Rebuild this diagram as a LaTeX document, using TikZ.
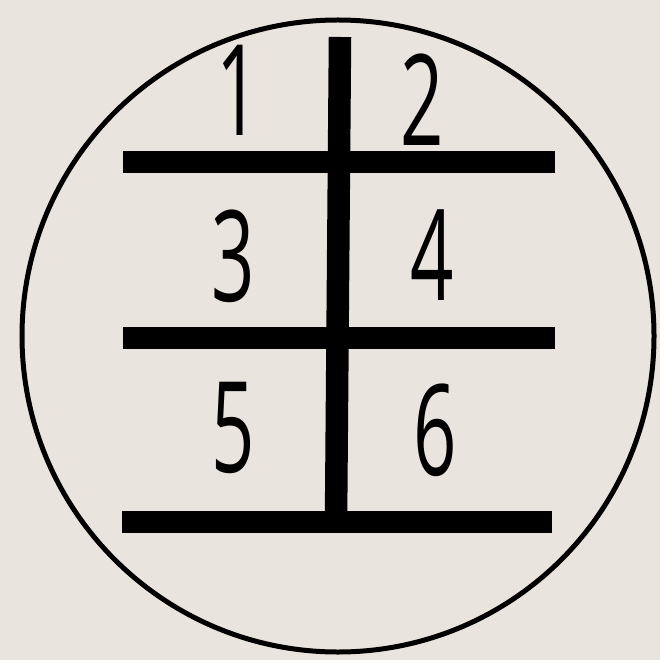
\documentclass[tikz,border=0pt]{standalone}
\usepackage{fontspec}
\setmainfont{Open Sans}
\definecolor{paper}{HTML}{EAE4DE}
\tikzset{
  gate/.style={line width=0.45cm},
  gear/.style={font=\fontsize{72}{72}\selectfont, xscale=0.6, inner sep=0pt},
}
\begin{document}
\begin{tikzpicture}[x=1cm,y=1cm]
\fill[paper] (0,0) rectangle (13.2,-13.2);
\useasboundingbox (0,0) rectangle (13.2,-13.2);

\draw[line width=0.1cm] (6.76,-6.72) circle (6.32);

\coordinate (top) at (6.80,-0.74);
\coordinate (foot) at (6.72,-10.44);
\draw[gate] (2.46,-3.24) -- (11.10,-3.24);
\draw[gate] (2.46,-6.76) -- (11.10,-6.76);
\draw[gate] (2.44,-10.44) -- (11.04,-10.44);
\draw[gate] (top) -- (foot);

\node[gear] (g1) at (4.76,-1.80) {1};
\node[gear] (g2) at (8.44,-2.00) {2};
\node[gear] (g3) at (4.66,-5.12) {3};
\node[gear] (g4) at (8.64,-5.10) {4};
\node[gear] (g5) at (4.66,-8.56) {5};
\node[gear] (g6) at (8.70,-8.60) {6};
\end{tikzpicture}
\end{document}
